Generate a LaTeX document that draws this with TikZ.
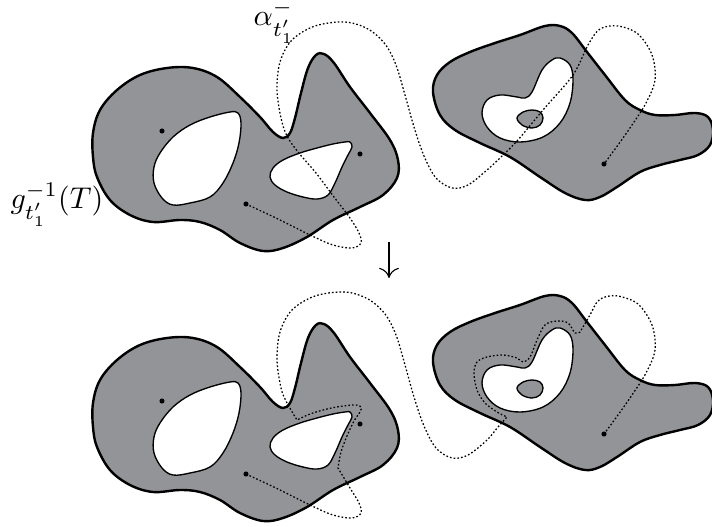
\documentclass[tikz,border=0pt]{standalone}
\usetikzlibrary{arrows.meta}
\definecolor{blobgray}{RGB}{147,148,152}
\tikzset{
  outer/.style={fill=blobgray, draw=black, line width=0.8pt},
  hole/.style={fill=white, draw=black, line width=0.45pt},
  island/.style={fill=blobgray, draw=black, line width=0.45pt},
  curve/.style={draw=black, line width=0.42pt, dash pattern=on 0.55pt off 0.7pt},
  marker/.style={fill=black},
  arrowline/.style={draw=black, line width=0.38pt, -{Computer Modern Rightarrow[length=3.4pt,width=6.6pt]}}
}
\begin{document}
\begin{tikzpicture}[x=0.3333pt, y=-0.3333pt]
\useasboundingbox (0,0) rectangle (712,527);
\foreach \dy in {0,270} {
\begin{scope}[shift={(0,\dy)}]
  % left blob
  \path[outer] plot[smooth cycle, tension=0.6] coordinates {
    (93,133) (100,110) (117,90) (140,75) (167,68) (193,68) (217,77) (240,97)
    (260,117) (273,132) (283,138) (290,133) (295,118) (301,93) (308,68) (316,55)
    (324,54) (334,63) (350,87) (370,113) (390,140) (398,160) (397,178) (383,195)
    (360,207) (333,220) (307,237) (283,248) (263,251) (240,243) (220,230) (200,222)
    (180,220) (153,222) (130,215) (110,200) (97,177) (93,157)};
  \path[hole] plot[smooth cycle, tension=0.6] coordinates {
    (238,113) (241,123) (239,143) (233,163) (223,183) (210,197) (190,203) (173,205)
    (162,198) (154,183) (154,167) (160,153) (173,137) (190,125) (210,117) (230,112)};
  \path[hole] plot[smooth cycle, tension=0.6] coordinates {
    (350,142) (352,147) (348,155) (342,167) (335,183) (328,195) (317,199) (303,197)
    (287,192) (275,185) (270,177) (273,168) (283,160) (300,153) (317,148) (333,144) (345,142)};
  % right blob
  \path[outer] plot[smooth cycle, tension=0.6] coordinates {
    (433,92) (437,75) (450,62) (470,52) (495,43) (520,35) (545,26) (560,26)
    (572,33) (587,52) (605,75) (625,100) (640,110) (655,115) (675,115) (695,113)
    (708,117) (713,130) (710,145) (698,155) (680,160) (660,165) (640,172) (617,187)
    (600,197) (585,200) (565,193) (540,177) (510,157) (480,143) (455,130) (440,115)};
  \path[hole] plot[smooth cycle, tension=0.6] coordinates {
    (482,113) (487,100) (500,95) (517,97) (525,98) (532,92) (542,70) (552,60)
    (560,58) (570,65) (573,80) (570,103) (560,123) (543,137) (520,142) (500,138) (487,127)};
  \path[island] plot[smooth cycle, tension=0.6] coordinates {
    (517,118) (523,112) (532,110) (540,112) (543,118) (540,125) (532,128) (522,125)};
  % marked points
  \fill[marker] (162,131) circle[radius=0.85pt];
  \fill[marker] (360,154) circle[radius=0.85pt];
  \fill[marker] (246,204) circle[radius=0.85pt];
  \fill[marker] (604,164) circle[radius=0.85pt];
\end{scope}
}
% upper curve alpha
\draw[curve] plot[smooth, tension=0.55] coordinates {
  (246,204) (278,219) (310,235) (333,245) (352,248) (361,243) (359,233) (350,218)
  (334,197) (316,173) (298,152) (287,136) (281,118) (277,90) (280,62) (292,40)
  (315,26) (345,22) (368,29) (385,44) (396,65) (405,95) (414,127) (424,156)
  (436,178) (452,188) (468,185) (487,170) (500,158) (517,141) (543,110) (573,75)
  (588,45) (600,29) (618,26) (638,34) (652,55) (655,80) (646,103) (632,125)
  (618,145) (604,164)};
% lower curve, pushed off the holes
\draw[curve] plot[smooth, tension=0.55] coordinates {
  (246,474) (278,489) (310,505) (333,515) (352,518) (361,513) (359,503) (350,488) (338,468)}
  -- plot[smooth, tension=0.55] coordinates {
  (338,468) (341,452) (347,436) (354,421) (360,412) (361,407) (356,405) (343,406)
  (327,409) (310,414) (297,420)}
  -- plot[smooth, tension=0.55] coordinates {
  (297,420) (291,410) (286,401) (281,388) (277,360) (280,332) (292,310) (315,296)
  (345,292) (368,299) (385,314) (396,335) (405,365) (414,397) (424,426) (436,448)
  (452,458) (468,455) (487,440) (498,427) (507,417)}
  -- plot[smooth, tension=0.55] coordinates {
  (507,417) (497,412) (485,403) (477,390) (474,373) (477,362) (487,357) (503,355)
  (517,358) (523,362) (530,357) (537,340) (545,325) (557,321) (568,323) (575,333) (580,332)}
  -- plot[smooth, tension=0.55] coordinates {
  (580,332) (590,315) (597,302) (605,297) (618,296) (638,304) (652,325) (655,350)
  (646,373) (632,395) (618,415) (604,434)};
% labels
\node[anchor=base west, inner sep=0pt] (alphalabel) at (253,26) {$\alpha^-_{t'_1}$};
\node[anchor=base west, inner sep=0pt] (glabel) at (10,209) {$g^{-1}_{t'_1}(T)$};
% arrow
\coordinate (arrtop) at (389,242);
\coordinate (arrbot) at (389,278);
\draw[arrowline] (arrtop) -- (arrbot);
\end{tikzpicture}
\end{document}
